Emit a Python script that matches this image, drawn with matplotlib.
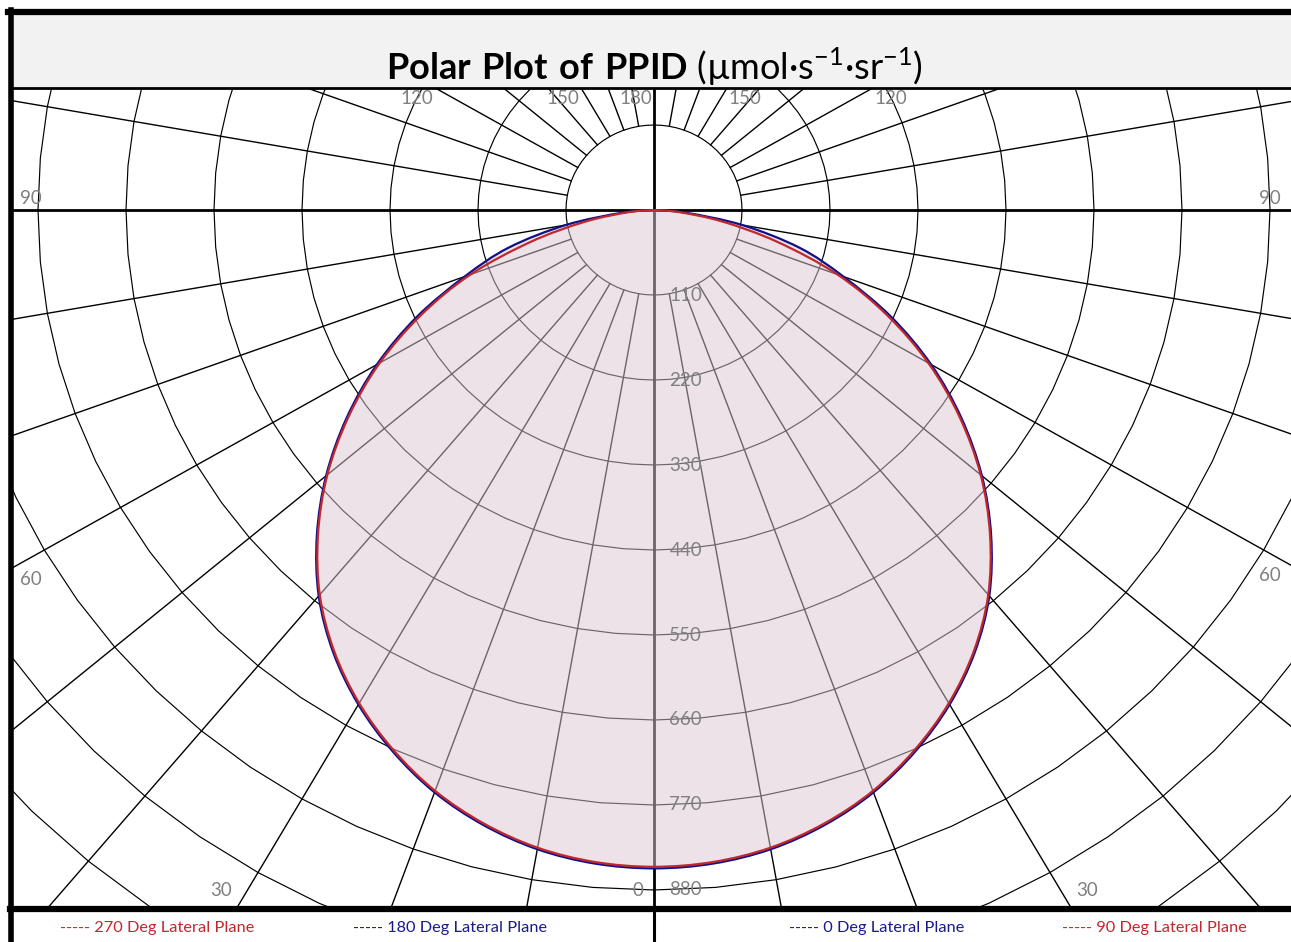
import numpy as np
import matplotlib.pyplot as plt
from matplotlib.lines import Line2D
from matplotlib.patches import Rectangle, PathPatch
from matplotlib.path import Path

plt.rcParams['font.family'] = ['Lato', 'DejaVu Sans']
plt.rcParams['mathtext.fontset'] = 'custom'
plt.rcParams['mathtext.rm'] = 'Lato'
plt.rcParams['mathtext.bf'] = 'Lato:bold'

# ----------------------------
# DATA (angle from nadir, PPID in umol/s/sr)
# ----------------------------
angles = [0, 5, 10, 15, 20, 25, 30, 35, 40, 45, 50, 55, 60, 65, 70, 75, 80, 85, 90]
plane_0 = [852, 849, 840, 824, 802, 773, 739, 699, 652, 596, 535, 469, 400, 327, 252, 188, 112, 40, 0]
plane_90 = [850, 847, 838, 822, 800, 771, 737, 697, 650, 594, 533, 466, 396, 321, 244, 160, 88, 32, 0]
plane_180 = [852, 849, 840, 824, 802, 773, 739, 699, 652, 596, 535, 469, 400, 327, 252, 188, 112, 40, 0]
plane_270 = [850, 847, 838, 822, 800, 771, 737, 697, 650, 594, 533, 466, 396, 321, 244, 160, 88, 32, 0]

ring_values = [110, 220, 330, 440, 550, 660, 770, 880]
extra_rings = [990, 1100, 1210, 1320, 1430]
spoke_step = 10
left_angle_labels = [0, 30, 60, 90, 120, 150, 180]
right_angle_labels = [30, 60, 90, 120, 150]

legend_labels = ["----- 270 Deg Lateral Plane", "----- 180 Deg Lateral Plane",
                 "----- 0 Deg Lateral Plane", "----- 90 Deg Lateral Plane"]
legend_colors = ["#C0282D", "#1A1A8C", "#1A1A8C", "#C0282D"]

RED = "#C0282D"
BLUE = "#10108A"
GRAY = "#808080"

W, H = 1291, 942
fig = plt.figure(figsize=(W / 100, H / 100), dpi=100)


def fy(y):
    return 1 - y / H


def fx(x):
    return x / W


def smooth_path(xs, ys, close=False):
    # catmull-rom through the data points, drawn as cubic beziers
    pts = np.column_stack([xs, ys])
    ext = np.vstack([pts[0], pts, pts[-1]])
    verts = [pts[0]]
    codes = [Path.MOVETO]
    for i in range(1, len(ext) - 2):
        p0, p1, p2, p3 = ext[i - 1], ext[i], ext[i + 1], ext[i + 2]
        verts += [p1 + (p2 - p0) / 6, p2 - (p3 - p1) / 6, p2]
        codes += [Path.CURVE4] * 3
    if close:
        verts.append(pts[0])
        codes.append(Path.CLOSEPOLY)
    return Path(verts, codes)


# ----------------------------
# TITLE BAND
# ----------------------------
fig.patches.append(Rectangle((fx(10), fy(88)), 1, fy(12) - fy(88),
                             transform=fig.transFigure, facecolor="#F2F2F2",
                             edgecolor="none", zorder=0))
fig.text(0.507, fy(67),
         r"$\mathbf{Polar\ Plot\ of\ PPID}$ (µmol·s$^{\mathregular{-1}}$·sr$^{\mathregular{-1}}$)",
         ha="center", va="center", fontsize=26, color="black")

# ----------------------------
# POLAR GRID (drawn on cartesian axes)
# ----------------------------
ax = fig.add_axes([fx(10), fy(908), 1 - fx(10), fy(88) - fy(908)])
ax.set_xlim(-805, 796.25)
ax.set_ylim(-903.3, 157.9)
ax.axis("off")

poly_t = np.radians(np.arange(0, 361, 5))
for r in ring_values + extra_rings:
    ax.plot(r * np.sin(poly_t), -r * np.cos(poly_t), color="black", lw=0.85, zorder=1)

for a in range(0, 360, spoke_step):
    if a % 90 == 0:
        continue
    t = np.radians(a)
    ax.plot([110 * np.sin(t), 2000 * np.sin(t)], [-110 * np.cos(t), -2000 * np.cos(t)],
            color="black", lw=1.0, zorder=1)

ax.axvline(0, color="black", lw=2.0, zorder=1)
ax.axhline(0, color="black", lw=2.0, zorder=1)

# ----------------------------
# CURVES
# ----------------------------
th = np.radians(angles)
b_left, b_right = np.array(plane_180), np.array(plane_0)
r_left, r_right = np.array(plane_270), np.array(plane_90)

blue_x = np.concatenate([-b_left[::-1] * np.sin(th[::-1]), b_right[1:] * np.sin(th[1:])])
blue_y = np.concatenate([-b_left[::-1] * np.cos(th[::-1]), -b_right[1:] * np.cos(th[1:])])
red_x = np.concatenate([-r_left[::-1] * np.sin(th[::-1]), r_right[1:] * np.sin(th[1:])])
red_y = np.concatenate([-r_left[::-1] * np.cos(th[::-1]), -r_right[1:] * np.cos(th[1:])])

ax.add_patch(PathPatch(smooth_path(blue_x, blue_y, close=True), facecolor="#DCC6D2",
                       alpha=0.5, edgecolor="none", zorder=2))
ax.add_patch(PathPatch(smooth_path(blue_x, blue_y), facecolor="none",
                       edgecolor=BLUE, lw=1.6, zorder=3))
ax.add_patch(PathPatch(smooth_path(red_x, red_y), facecolor="none",
                       edgecolor=RED, lw=1.6, zorder=4))

# ----------------------------
# LABELS
# ----------------------------
for v in ring_values:
    ax.annotate(str(v), (0, -v), xytext=(11, 0), textcoords="offset points",
                ha="left", va="center", fontsize=13.5, color=GRAY, zorder=5)

x0, x1 = ax.get_xlim()
y0, y1 = ax.get_ylim()
PT = 0.72  # px -> points at 100 dpi


def edge_point(a, side):
    t = np.radians(a)
    dx, dy = side * np.sin(t), -np.cos(t)
    cands = []
    if dx > 1e-9:
        cands.append((x1 / dx, "right"))
    if dx < -1e-9:
        cands.append((x0 / dx, "left"))
    if dy > 1e-9:
        cands.append((y1 / dy, "top"))
    if dy < -1e-9:
        cands.append((y0 / dy, "bottom"))
    s, edge = min(cands)
    return s * dx, s * dy, edge


for side, labels in [(-1, left_angle_labels), (1, right_angle_labels)]:
    for a in labels:
        px, py, edge = edge_point(a, side)
        if edge == "bottom":
            off = (side * 16, 17)
        elif edge == "top":
            off = (side * 18, -10)
        else:
            off = (-side * 21, 12 if a >= 90 else -10)
        ax.annotate(str(a), (px, py), xytext=(off[0] * PT, off[1] * PT),
                    textcoords="offset points", ha="center", va="center",
                    fontsize=13.5, color=GRAY, zorder=5, annotation_clip=False)

# ----------------------------
# LEGEND STRIP
# ----------------------------
for lbl, col, cx in zip(legend_labels, legend_colors, [157, 450, 877, 1154]):
    fig.text(fx(cx), fy(928), lbl, ha="center", va="center", fontsize=11.8, color=col)

# ----------------------------
# FRAME LINES
# ----------------------------
frame = [
    ([fx(8), 1], [fy(12), fy(12)], 4.5),
    ([fx(10.5), fx(10.5)], [fy(10), 0], 4.0),
    ([fx(10), 1], [fy(88), fy(88)], 2.0),
    ([fx(10), 1], [fy(909), fy(909)], 4.5),
    ([fx(654), fx(654)], [fy(908), 0], 2.2),
]
for xs, ys, lw in frame:
    fig.add_artist(Line2D(xs, ys, transform=fig.transFigure, color="black", lw=lw, zorder=10))

fig.savefig("out.png", dpi=100)
